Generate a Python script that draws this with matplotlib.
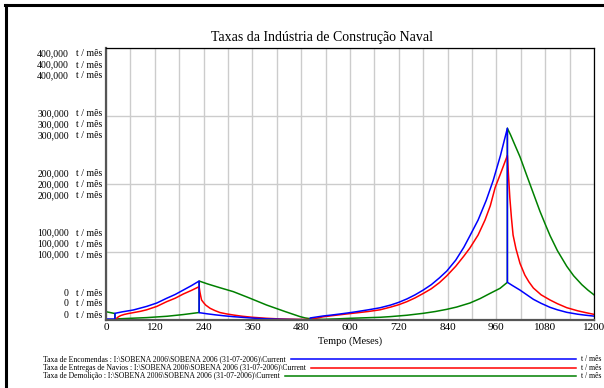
import matplotlib
matplotlib.use('Agg')
import matplotlib.pyplot as plt
from matplotlib.lines import Line2D

plt.rcParams['font.family'] = ['Liberation Serif', 'DejaVu Serif']

# ------------------------------------------------------------------
# data (t = months, values in t / mes)
t_enc = [0, 22, 22, 40, 67, 100, 125, 149, 170, 190, 210, 229, 229,
         250, 270, 290, 313, 340, 360, 395, 430, 470, 502, 502,
         534, 555, 575, 595, 616, 645, 674, 700, 720, 740, 760, 780, 800, 820, 838, 860, 880, 895,
         915, 935, 952, 970, 987, 987,
         1000, 1018, 1035, 1051, 1070, 1092, 1110, 1133, 1160, 1180, 1200]
v_enc = [1500, 1500, 9800, 12000, 14700, 20000, 25000, 31900, 37500, 44000, 50500, 57300, 10800,
         9000, 7500, 6200, 4900, 3700, 2800, 1700, 1000, 600, 300, 3000,
         5900, 7300, 8800, 10400, 12200, 15000, 18000, 22000, 26000, 31000, 37000, 44000, 52000, 62000, 72000, 88000, 107000, 124000,
         147000, 176000, 205000, 242000, 282000, 55400,
         50500, 44000, 37000, 30400, 24500, 18600, 15000, 11300, 8500, 7000, 5700]

t_ent = [0, 22, 26, 30, 36, 45, 55, 67, 85, 100, 125, 149, 170, 190, 210, 229,
         231, 233, 235, 240, 245, 256, 268, 280, 296, 313, 335, 360, 395, 430, 470, 502,
         520, 534, 555, 575, 595, 616, 645, 674, 700, 720, 740, 760, 780, 800, 820, 838, 860, 880, 895,
         915, 932, 945, 957, 970, 987,
         990, 993, 997, 1001, 1008, 1018, 1030, 1040, 1051, 1070, 1092, 1110, 1133, 1160, 1180, 1200]
v_ent = [0, 0, 2500, 4500, 6500, 8200, 9500, 10800, 12800, 15000, 20000, 26900, 32000, 38200, 43500, 49000,
         41000, 35000, 29400, 25500, 22000, 17200, 13800, 11000, 9000, 7350, 5500, 4000, 2500, 1500, 1000, 700,
         3000, 4700, 6300, 7700, 9100, 10500, 12500, 15000, 19000, 22500, 27000, 32500, 39000, 46000, 55000, 65000, 79000, 94000, 106000,
         125000, 147000, 168000, 195000, 215000, 242000,
         210000, 180000, 150000, 125000, 105000, 83300, 66000, 56000, 47000, 37000, 29400, 24000, 18100, 13500, 10800, 8300]

t_dem = [0, 22, 22, 60, 100, 150, 190, 229, 229,
         250, 280, 313, 350, 395, 440, 477, 490, 510,
         534, 570, 600, 640, 674, 700, 740, 780, 810, 838, 862, 895, 920, 944, 969, 987, 987,
         995, 1005, 1018, 1035, 1051, 1067, 1080, 1092, 1110, 1133, 1150, 1170, 1185, 1200]
v_dem = [12200, 9500, 1500, 2500, 3500, 5500, 8000, 11000, 57300,
         53000, 47500, 41700, 33000, 22000, 12500, 5000, 3000, 1200,
         1000, 1700, 2500, 3300, 4000, 5000, 7000, 9800, 12500, 15700, 19000, 25000, 31500, 39000, 46600, 55400, 282000,
         272000, 258000, 240000, 212000, 186000, 160000, 141000, 124000, 102000, 79000, 65000, 52000, 44000, 37000]

series_names = [r'Taxa de Encomendas : I:\SOBENA 2006\SOBENA 2006 (31-07-2006)\Current',
                r'Taxa de Entregas de Navios : I:\SOBENA 2006\SOBENA 2006 (31-07-2006)\Current',
                r'Taxa de Demolição : I:\SOBENA 2006\SOBENA 2006 (31-07-2006)\Current']
series_colors = ['#0000ff', '#ff0000', '#008000']

x_ticks = list(range(0, 1201, 120))
y_ticks = [0, 100000, 200000, 300000, 400000]
y_labels = ['0', '100,000', '200,000', '300,000', '400,000']
unit = 't / mês'

# ------------------------------------------------------------------
W, H = 604, 388
fig = plt.figure(figsize=(W / 100, H / 100), dpi=100)
ax = fig.add_axes([106 / W, 68 / H, 488 / W, 272 / H])

ax.plot(t_dem, v_dem, color=series_colors[2], lw=1.1)
ax.plot(t_ent, v_ent, color=series_colors[1], lw=1.1)
ax.plot(t_enc, v_enc, color=series_colors[0], lw=1.1)

ax.set_xlim(0, 1200)
ax.set_ylim(0, 400000)
ax.set_xticks(x_ticks)
ax.set_xticklabels([str(x) for x in x_ticks], fontsize=8)
ax.set_xticks(list(range(60, 1200, 120)), minor=True)
ax.set_yticks(y_ticks)
ax.set_yticklabels([])
ax.tick_params(which='both', length=0, pad=2.5)
ax.grid(True, which='both', color='#cccccc', lw=1.0)
ax.set_axisbelow(True)

for side in ['left', 'bottom']:
    ax.spines[side].set_color('#555555')
    ax.spines[side].set_linewidth(1.6)
for side in ['top', 'right']:
    ax.spines[side].set_color('black')
    ax.spines[side].set_linewidth(0.9)

# three stacked y labels per gridline (one per series)
for v, lab in zip(y_ticks, y_labels):
    mid = -16 + 33 * v / 400000.0  # px below the gridline
    for k in (-1, 0, 1):
        dy = -(mid + 11 * k) * 0.72
        ax.annotate(lab, xy=(0, v), xycoords=('axes fraction', 'data'),
                    xytext=(-37 * 0.72, dy), textcoords='offset points',
                    ha='right', va='center', fontsize=7, annotation_clip=False)
        ax.annotate(unit, xy=(0, v), xycoords=('axes fraction', 'data'),
                    xytext=(-30 * 0.72, dy), textcoords='offset points',
                    ha='left', va='center', fontsize=7, annotation_clip=False)

fig.text(322 / W, 1 - 37 / H, 'Taxas da Indústria de Construção Naval',
         ha='center', va='center', fontsize=10)
fig.text(350 / W, 1 - 341 / H, 'Tempo (Meses)', ha='center', va='center', fontsize=7.5)

# legend rows at the bottom
fig.canvas.draw()
renderer = fig.canvas.get_renderer()
row_y = [359, 368, 376]
for name, col, yy in zip(series_names, series_colors, row_y):
    txt = fig.text(43 / W, 1 - yy / H, name, ha='left', va='center', fontsize=5.5)
    bb = txt.get_window_extent(renderer)
    x0 = (bb.x1 + 5) / W
    fig.add_artist(Line2D([x0, 576 / W], [1 - yy / H, 1 - yy / H], color=col, lw=1.1))
    fig.text(581 / W, 1 - yy / H, unit, ha='left', va='center', fontsize=5.5)

# frame lines on the left and top
fig.add_artist(Line2D([6 / W, 6 / W], [0, 1 - 5 / H], color='black', lw=2.2))
fig.add_artist(Line2D([5 / W, 1], [1 - 5 / H, 1 - 5 / H], color='black', lw=2.2))

fig.savefig('out.png', dpi=100)
